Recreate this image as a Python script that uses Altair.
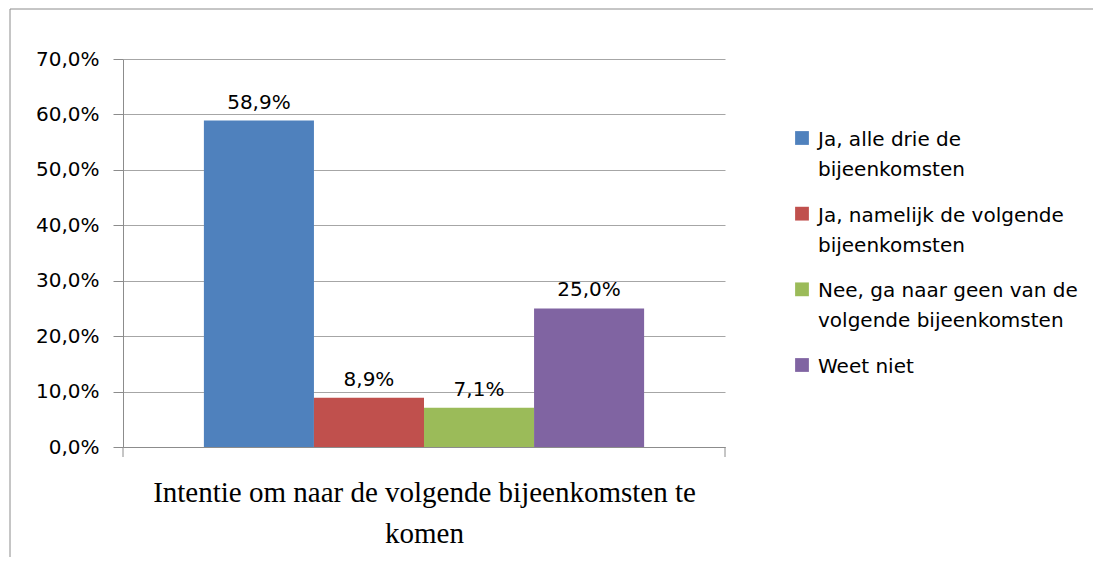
import altair as alt
import pandas as pd

series = [
    "Ja, alle drie de bijeenkomsten",
    "Ja, namelijk de volgende bijeenkomsten",
    "Nee, ga naar geen van de volgende bijeenkomsten",
    "Weet niet",
]
legend_labels = [
    "Ja, alle drie de\nbijeenkomsten",
    "Ja, namelijk de volgende\nbijeenkomsten",
    "Nee, ga naar geen van de\nvolgende bijeenkomsten",
    "Weet niet",
]
values = [0.589, 0.089, 0.071, 0.250]
colors = ["#4F81BD", "#C0504D", "#9BBB59", "#8064A2"]
y_ticks = [0.0, 0.1, 0.2, 0.3, 0.4, 0.5, 0.6, 0.7]
category_title = ["Intentie om naar de volgende bijeenkomsten te", "komen"]

W, H = 602, 388
GRAY = "#8C8C8C"

df = pd.DataFrame({"series": series, "value": values, "legend": legend_labels})
df["label"] = [f"{v*100:.1f}%".replace(".", ",") for v in values]

color = alt.Color("series:N", sort=series,
                  scale=alt.Scale(domain=series, range=colors), legend=None)

x_enc = alt.X(
    "series:N", sort=series,
    scale=alt.Scale(paddingInner=0, paddingOuter=0.735),
    axis=alt.Axis(labels=False, ticks=False, grid=False, domainColor=GRAY,
                  title=category_title, titleFont="Liberation Serif",
                  titleFontSize=29, titleFontWeight="normal", titleColor="black",
                  titlePadding=31, titleLineHeight=41),
)
y_enc = alt.Y(
    "value:Q",
    scale=alt.Scale(domain=[0, 0.7], nice=False),
    axis=alt.Axis(values=y_ticks, grid=True,
                  labelExpr="replace(format(datum.value, '.1%'), '.', ',')",
                  tickSize=10, tickColor=GRAY, domainColor=GRAY,
                  gridColor="#A6A6A6", labelFont="DejaVu Sans",
                  labelFontSize=20, labelColor="black", labelPadding=14,
                  title=None),
)

base = alt.Chart(df)
bars = base.mark_bar().encode(x=x_enc, y=y_enc, color=color)
labels = base.mark_text(baseline="bottom", dy=-8, font="DejaVu Sans",
                        fontSize=20, color="black").encode(
    x=alt.X("series:N", sort=series),
    y=alt.Y("value:Q", scale=alt.Scale(domain=[0, 0.7], nice=False), axis=None),
    text="label:N",
)

leg_y = alt.Y("series:N", sort=series,
              scale=alt.Scale(type="point", domain=series, range=[79, 306], padding=0),
              axis=None)
leg_sq = base.mark_square(size=190, opacity=1).encode(
    x=alt.value(679), y=leg_y, color=color)
leg_tx = base.mark_text(align="left", baseline="alphabetic", dy=8, lineHeight=30,
                        lineBreak="\n", font="DejaVu Sans", fontSize=20,
                        color="black").encode(
    x=alt.value(695), y=leg_y, text="legend:N")

one = alt.Chart(pd.DataFrame({"k": [0]}))
deco = alt.layer(
    one.mark_rule(color=GRAY).encode(x=alt.value(W), y=alt.value(H), y2=alt.value(H + 10)),
    one.mark_rule(color=GRAY).encode(x=alt.value(0), y=alt.value(H), y2=alt.value(H + 10)),
    one.mark_rule(color=GRAY).encode(x=alt.value(-113), y=alt.value(-50), y2=alt.value(H + 130)),
    one.mark_rule(color=GRAY).encode(x=alt.value(-113), x2=alt.value(1000), y=alt.value(-50)),
)

chart = alt.layer(bars, labels, leg_sq, leg_tx, deco).resolve_scale(
    y="independent"
).properties(
    width=W, height=H,
    autosize=alt.AutoSizeParams(type="none"),
    padding={"left": 115, "top": 51, "right": 368, "bottom": 110},
).configure_view(stroke=None)

chart.save("out.html", embed_options={"renderer": "svg", "actions": False})
